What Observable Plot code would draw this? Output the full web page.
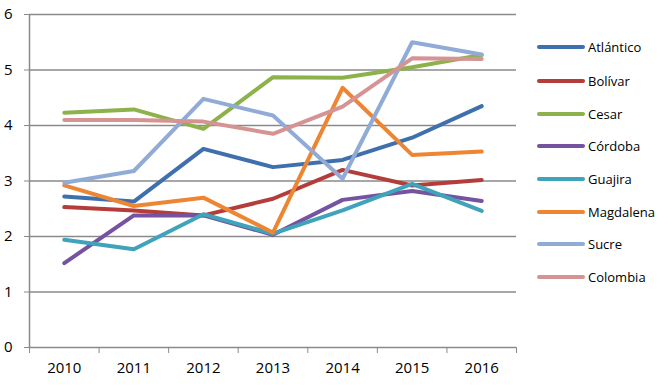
<!DOCTYPE html>
<html>
<head>
<meta charset="utf-8">
<script src="https://cdn.jsdelivr.net/npm/d3@7"></script>
<script src="https://cdn.jsdelivr.net/npm/@observablehq/plot@0.6"></script>
<style>
  html, body { margin: 0; padding: 0; background: #fff; }
  #wrap { position: relative; width: 664px; height: 385px; font-family: "Open Sans", sans-serif; }
  #legend { position: absolute; left: 537px; top: 0; }
  .item { position: absolute; left: 0; display: flex; align-items: center; white-space: nowrap; font-size: 13px; color: #000; }
  .sw { width: 48px; height: 4px; border-radius: 2px; margin-right: 3px; }
</style>
</head>
<body>
<div id="wrap"><div id="legend"></div></div>
<script>
const years = [2010, 2011, 2012, 2013, 2014, 2015, 2016];
const yTicks = [0, 1, 2, 3, 4, 5, 6];
const seriesNames = ["Atlántico", "Bolívar", "Cesar", "Córdoba", "Guajira", "Magdalena", "Sucre", "Colombia"];
const seriesColors = ["#3f6fad", "#b43d3a", "#8db24c", "#7553a0", "#3fa3bb", "#ee8532", "#90acd6", "#d69393"];

const atlantico = [2.72, 2.63, 3.58, 3.25, 3.38, 3.78, 4.35];
const bolivar   = [2.53, 2.47, 2.38, 2.68, 3.20, 2.92, 3.02];
const cesar     = [4.23, 4.29, 3.94, 4.87, 4.86, 5.05, 5.27];
const cordoba   = [1.52, 2.38, 2.38, 2.03, 2.66, 2.82, 2.64];
const guajira   = [1.94, 1.77, 2.40, 2.05, 2.47, 2.95, 2.46];
const magdalena = [2.92, 2.55, 2.70, 2.07, 4.68, 3.47, 3.53];
const sucre     = [2.97, 3.18, 4.48, 4.18, 3.04, 5.50, 5.28];
const colombia  = [4.10, 4.10, 4.07, 3.85, 4.34, 5.21, 5.20];

const allSeries = [atlantico, bolivar, cesar, cordoba, guajira, magdalena, sucre, colombia];
const data = [];
allSeries.forEach((vals, i) => vals.forEach((v, j) => data.push({serie: seriesNames[i], year: years[j], value: v})));

const boundaries = [...years.map(y => y - 0.5), years[years.length - 1] + 0.5];
const grid = "#8a8a8a";

const chart = Plot.plot({
  width: 664,
  height: 385,
  marginLeft: 29,
  marginRight: 148,
  marginTop: 14,
  marginBottom: 38,
  style: {fontFamily: "Open Sans, sans-serif", fontSize: "15px", color: "#000", background: "#fff"},
  x: {domain: [years[0] - 0.5, years[years.length - 1] + 0.5]},
  y: {domain: [0, 6]},
  color: {domain: seriesNames, range: seriesColors},
  marks: [
    Plot.ruleY(yTicks, {stroke: grid, strokeWidth: 1.5}),
    Plot.ruleX([boundaries[0]], {stroke: grid, strokeWidth: 1.5}),
    Plot.axisY({ticks: yTicks, tickSize: 5, tickPadding: 12, stroke: grid, color: "#000", label: null, tickFormat: d => String(d)}),
    Plot.axisX({ticks: years, tickSize: 0, tickPadding: 15, label: null, tickFormat: d => String(d), color: "#000"}),
    Plot.axisX({ticks: boundaries, tickSize: 6, tickFormat: () => "", label: null, stroke: grid}),
    Plot.line(data, {x: "year", y: "value", z: "serie", stroke: "serie", strokeWidth: 4, strokeLinejoin: "round", strokeLinecap: "round"})
  ]
});
document.getElementById("wrap").prepend(chart);

const legend = document.getElementById("legend");
const rowTops = [47, 80.5, 113.5, 146, 179, 211.5, 244, 276.5];
seriesNames.forEach((name, i) => {
  const item = document.createElement("div");
  item.className = "item";
  item.style.top = (rowTops[i] - 9) + "px";
  item.style.height = "18px";
  const sw = document.createElement("span");
  sw.className = "sw";
  sw.style.background = seriesColors[i];
  const label = document.createElement("span");
  label.textContent = name;
  item.append(sw, label);
  legend.append(item);
});
</script>
</body>
</html>
